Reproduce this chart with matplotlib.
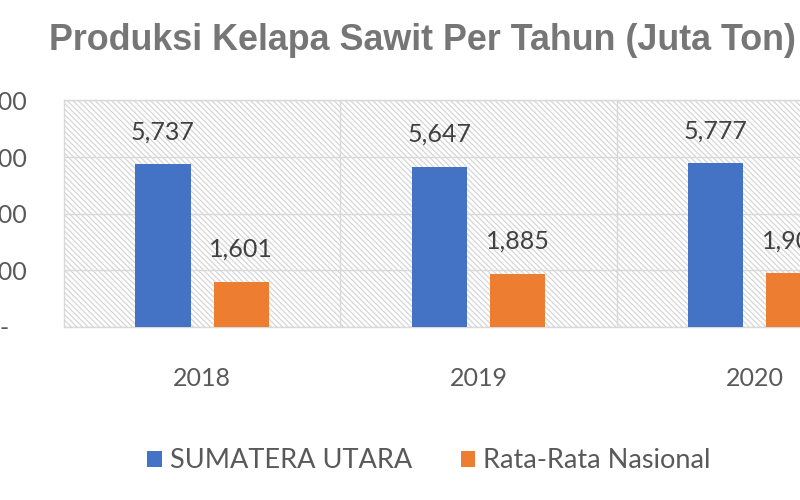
import matplotlib
matplotlib.use('Agg')
import matplotlib.pyplot as plt
import numpy as np

years = ['2018', '2019', '2020']
sumut = [5737, 5647, 5777]
nasional = [1601, 1885, 1905]
yticks = [0, 2000, 4000, 6000, 8000]
ytick_labels = ['-   ', '2,000', '4,000', '6,000', '8,000']

plt.rcParams['font.family'] = ['Lato', 'DejaVu Sans']
plt.rcParams['hatch.color'] = '#d6d6d6'
plt.rcParams['hatch.linewidth'] = 0.9

fig = plt.figure(figsize=(8, 5), dpi=100)
fig.patch.set_facecolor('white')
# the original is cropped, so the axes run past the right edge
ax = fig.add_axes([0.08, 0.346, 1.036, 0.454])
ax.patch.set_facecolor('white')
ax.patch.set_hatch('\\\\\\\\\\\\')
ax.patch.set_edgecolor('#d6d6d6')

x = np.arange(len(years))
w = 0.2
b1 = ax.bar(x - 0.142, sumut, w, color='#4472C4', label='SUMATERA UTARA', zorder=3)
b2 = ax.bar(x + 0.142, nasional, w, color='#ED7D31', label='Rata-Rata Nasional', zorder=3)

for bars, vals in [(b1, sumut), (b2, nasional)]:
    for r, v in zip(bars, vals):
        ax.annotate('{:,}'.format(v), (r.get_x() + r.get_width() / 2, v),
                    xytext=(0, 15), textcoords='offset points',
                    ha='center', va='bottom', fontsize=18, color='#404040')

ax.set_xlim(-0.5, 2.5)
ax.set_ylim(0, 8000)
ax.set_yticks(yticks)
ax.set_yticklabels(ytick_labels)
ax.set_xticks(x)
ax.set_xticklabels(years)
ax.set_xticks([0.5, 1.5], minor=True)
ax.tick_params(axis='both', which='both', length=0, labelsize=18, colors='#595959')
ax.tick_params(axis='y', pad=26)
ax.tick_params(axis='x', pad=29)
ax.yaxis.grid(True, color='#d9d9d9', linewidth=1, zorder=1)
ax.xaxis.grid(True, which='minor', color='#d9d9d9', linewidth=1, zorder=1)
ax.set_axisbelow(True)
for s in ax.spines.values():
    s.set_color('#d9d9d9')
    s.set_linewidth(1)

fig.text(0.528, 0.918, 'Produksi Kelapa Sawit Per Tahun (Juta Ton)', ha='center', va='center',
         fontsize=25.8, fontweight='bold', color='#767676', family='Liberation Sans')

fig.legend(handles=[b1, b2], loc='center', bbox_to_anchor=(0.536, 0.078), ncol=2, frameon=False,
           fontsize=19.5, handlelength=0.55, handleheight=0.55, handletextpad=0.27,
           columnspacing=1.8, labelcolor='#595959')

fig.savefig('out.png', dpi=100)
